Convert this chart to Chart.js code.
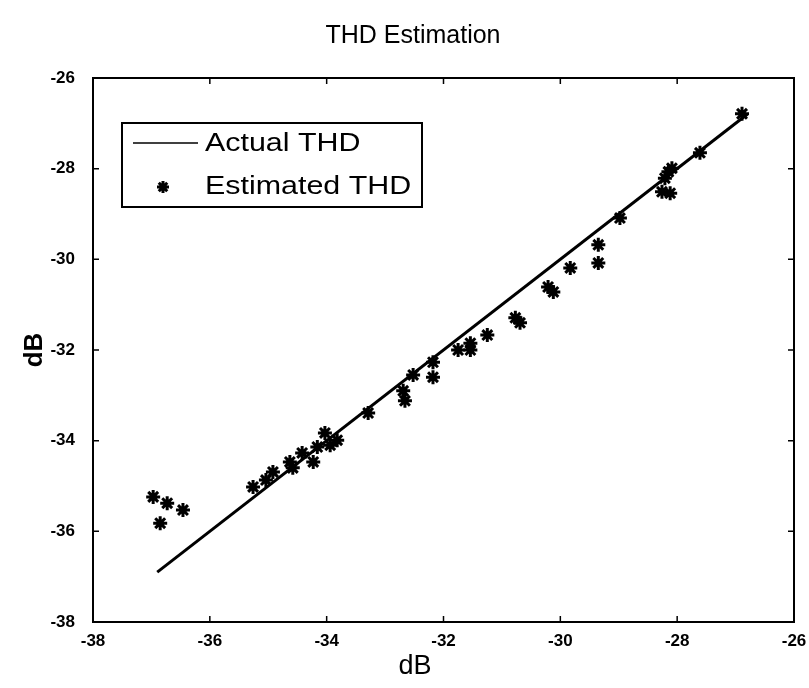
<!DOCTYPE html>
<html>
<head>
<meta charset="utf-8">
<script src="https://cdn.jsdelivr.net/npm/chart.js@4"></script>
<style>
  body { margin: 0; background: #fff; }
</style>
</head>
<body>
<canvas id="myChart" width="809" height="688"></canvas>
<script>
// Actual THD (x) vs estimated THD (y), in dB
const actualThd = [
  -36.97, -36.73, -36.46, -36.85,
  -35.26, -35.04, -34.92, -34.63, -34.58, -34.42, -34.23, -34.16, -34.03, -33.94, -33.82,
  -33.29, -32.69, -32.66, -32.52, -32.18, -32.18, -31.75, -31.54, -31.54, -31.25,
  -30.77, -30.69, -30.21, -30.12, -29.83, -29.35, -29.35, -28.98,
  -28.26, -28.12, -28.15, -28.09, -28.21, -27.61, -26.89,
];
const estimatedThd = [
  -35.24, -35.38, -35.53, -35.82,
  -35.02, -34.87, -34.69, -34.47, -34.6, -34.27, -34.47, -34.14, -33.83, -34.1, -33.99,
  -33.39, -32.9, -33.12, -32.55, -32.27, -32.6, -32.0, -31.85, -32.0, -31.67,
  -31.29, -31.4, -30.61, -30.72, -30.19, -29.68, -30.08, -29.09,
  -28.51, -28.54, -28.07, -27.99, -28.21, -27.65, -26.79,
];
// reference line: actual THD against itself
const lineThd = [-36.9, -26.8];
const tickValues = [-38, -36, -34, -32, -30, -28, -26];
const legendLabels = ["Actual THD", "Estimated THD"];
const titleText = "THD Estimation";
const xLabel = "dB";
const yLabel = "dB";

const FONT = "'Liberation Sans', Arial, sans-serif";

const boxAndTicks = {
  id: "boxAndTicks",
  afterDraw(chart) {
    const { ctx, chartArea: a, scales } = chart;
    ctx.save();
    ctx.strokeStyle = "#000";
    ctx.lineWidth = 2;
    ctx.strokeRect(a.left, a.top, a.right - a.left, a.bottom - a.top);
    ctx.lineWidth = 1.5;
    const len = 6;
    tickValues.forEach((v) => {
      const px = scales.x.getPixelForValue(v);
      const py = scales.y.getPixelForValue(v);
      ctx.beginPath();
      ctx.moveTo(px, a.bottom); ctx.lineTo(px, a.bottom - len);
      ctx.moveTo(px, a.top); ctx.lineTo(px, a.top + len);
      ctx.moveTo(a.left, py); ctx.lineTo(a.left + len, py);
      ctx.moveTo(a.right, py); ctx.lineTo(a.right - len, py);
      ctx.stroke();
    });

    // title and x label, centred like the original figure
    ctx.fillStyle = "#000";
    ctx.textAlign = "center";
    ctx.textBaseline = "middle";
    ctx.font = `25px ${FONT}`;
    ctx.fillText(titleText, a.left + 320, 36);
    ctx.font = `27px ${FONT}`;
    ctx.fillText(xLabel, a.left + 322, 667);
    ctx.restore();
  },
};

const boxLegend = {
  id: "boxLegend",
  afterDraw(chart) {
    const { ctx, chartArea: a } = chart;
    const left = a.left + 29;
    const top = a.top + 45;
    const right = a.left + 329;
    const stretch = 1.17;
    ctx.save();
    ctx.fillStyle = "#fff";
    ctx.fillRect(left, top, right - left, 84);
    ctx.strokeStyle = "#000";
    ctx.lineWidth = 2;
    ctx.strokeRect(left, top, right - left, 84);

    ctx.lineWidth = 1.5;
    ctx.beginPath();
    ctx.moveTo(left + 11, top + 20);
    ctx.lineTo(left + 76, top + 20);
    ctx.stroke();

    // star marker
    const mx = left + 41, my = top + 64, r = 6;
    ctx.lineWidth = 3;
    ctx.beginPath();
    for (let k = 0; k < 4; k++) {
      const ang = (k * Math.PI) / 4;
      ctx.moveTo(mx - r * Math.cos(ang), my - r * Math.sin(ang));
      ctx.lineTo(mx + r * Math.cos(ang), my + r * Math.sin(ang));
    }
    ctx.stroke();

    ctx.fillStyle = "#000";
    ctx.textBaseline = "middle";
    ctx.font = `26px ${FONT}`;
    const textX = left + 83;
    ctx.translate(textX, 0);
    ctx.scale(stretch, 1);
    ctx.fillText(legendLabels[0], 0, top + 21);
    ctx.fillText(legendLabels[1], 0, top + 64);
    ctx.restore();
  },
};

const data = {
  datasets: [
    {
      label: legendLabels[0],
      type: "line",
      data: lineThd.map((v) => ({ x: v, y: v })),
      borderColor: "#000",
      borderWidth: 3,
      pointRadius: 0,
      showLine: true,
    },
    {
      label: legendLabels[1],
      data: actualThd.map((v, i) => ({ x: v, y: estimatedThd[i] })),
      pointStyle: "star",
      pointRadius: 7,
      borderWidth: 3,
      borderColor: "#000",
      backgroundColor: "#000",
    },
  ],
};

const tickFont = { family: FONT, size: 17, weight: "bold" };

new Chart(document.getElementById("myChart"), {
  type: "scatter",
  data,
  options: {
    responsive: false,
    animation: false,
    devicePixelRatio: 1,
    layout: { padding: { left: 0, right: 15, top: 78, bottom: 0 } },
    plugins: {
      legend: { display: false },
      tooltip: { enabled: false },
      title: { display: false },
    },
    scales: {
      x: {
        type: "linear",
        min: -38,
        max: -26,
        ticks: { stepSize: 2, color: "#000", font: tickFont, padding: 1, maxRotation: 0 },
        grid: { display: false },
        border: { display: false },
        afterFit: (s) => { s.height = 66; },
      },
      y: {
        type: "linear",
        min: -38,
        max: -26,
        ticks: { stepSize: 2, color: "#000", font: tickFont, padding: 10 },
        grid: { display: false },
        border: { display: false },
        title: {
          display: true,
          text: yLabel,
          color: "#000",
          font: { family: FONT, size: 26, weight: "bold" },
          padding: { top: 19, bottom: 0 },
        },
        afterFit: (s) => { s.width = 93; },
      },
    },
  },
  plugins: [boxAndTicks, boxLegend],
});
</script>
</body>
</html>
